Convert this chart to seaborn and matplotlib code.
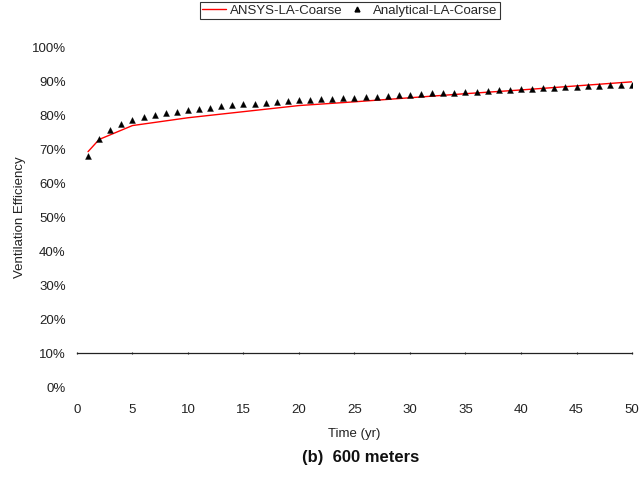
import numpy as np
import pandas as pd
import matplotlib
matplotlib.use("Agg")
import matplotlib.pyplot as plt
from matplotlib.ticker import PercentFormatter, MultipleLocator
from matplotlib.lines import Line2D
import seaborn as sns

# ANSYS simulation results (years, efficiency)
ansys_years = [1, 2, 5, 10, 15, 20, 25, 30, 35, 40, 45, 50]
ansys_eff = [0.694, 0.730, 0.771, 0.794, 0.812, 0.830, 0.841, 0.853,
             0.865, 0.876, 0.888, 0.900]

# Analytical solution, evaluated every year
analytical_years = list(range(1, 51))
analytical_eff = [0.681, 0.730, 0.758, 0.775, 0.787, 0.796, 0.803, 0.809, 0.812, 0.816,
                  0.820, 0.824, 0.828, 0.831, 0.834, 0.836, 0.839, 0.841, 0.843, 0.845,
                  0.846, 0.848, 0.850, 0.852, 0.853, 0.855, 0.856, 0.858, 0.860, 0.862,
                  0.864, 0.866, 0.867, 0.868, 0.870, 0.871, 0.873, 0.875, 0.876, 0.878,
                  0.880, 0.881, 0.883, 0.885, 0.886, 0.888, 0.889, 0.890, 0.891, 0.892]

x_ticks = list(range(0, 51, 5))

sns.set_style("white")
plt.rcParams["font.family"] = ["Liberation Sans", "DejaVu Sans"]

FS = 9.5

fig = plt.figure(figsize=(6.41, 4.79), dpi=100)
ax = fig.add_axes([0.120, 0.192, 0.866, 0.708])

ansys = pd.DataFrame({"t": ansys_years, "eff": ansys_eff})
analytical = pd.DataFrame({"t": analytical_years, "eff": analytical_eff})

sns.lineplot(data=ansys, x="t", y="eff", ax=ax, color="#ff0000", linewidth=1.0)
sns.scatterplot(data=analytical, x="t", y="eff", ax=ax, marker="^", color="black",
                s=18, edgecolor="black", linewidth=0.3, zorder=3)

ax.set_xlim(0, 50)
ax.set_ylim(0, 1)
ax.set_xticks(x_ticks)
ax.yaxis.set_major_locator(MultipleLocator(0.1))
ax.yaxis.set_major_formatter(PercentFormatter(1.0, decimals=0))

for s in ax.spines.values():
    s.set_visible(False)
ax.tick_params(axis="x", length=0, pad=12, labelsize=FS, colors="#222222")
ax.tick_params(axis="y", length=0, pad=8, labelsize=FS, colors="#222222")

# horizontal axis line crossing at 10%
sec = ax.secondary_xaxis(0.1)
sec.set_xticks(x_ticks)
sec.tick_params(axis="x", direction="inout", length=2, width=0.8, labelbottom=False,
                color="#222222")
sec.spines["bottom"].set_color("#222222")
sec.spines["bottom"].set_linewidth(0.9)

ax.set_xlabel("Time (yr)", fontsize=FS, labelpad=9, color="#222222")
ax.set_ylabel("Ventilation Efficiency", fontsize=FS, labelpad=4, color="#222222")

handles = [Line2D([], [], color="#ff0000", lw=1.0),
           Line2D([], [], ls="none", marker="^", color="black", markersize=3.5)]
leg = fig.legend(handles, ["ANSYS-LA-Coarse", "Analytical-LA-Coarse"],
                 loc="upper center", bbox_to_anchor=(0.546, 0.996), ncol=2,
                 fontsize=FS, frameon=True, fancybox=False, borderpad=0.2,
                 handlelength=1.8, columnspacing=0.2, handletextpad=0.3,
                 borderaxespad=0)
leg.get_frame().set_edgecolor("black")
leg.get_frame().set_linewidth(0.8)

fig.text(0.563, 0.045, "(b)  600 meters", ha="center", va="center",
         fontsize=12, fontweight="bold", color="#111111")

fig.savefig("out.png", dpi=100)
